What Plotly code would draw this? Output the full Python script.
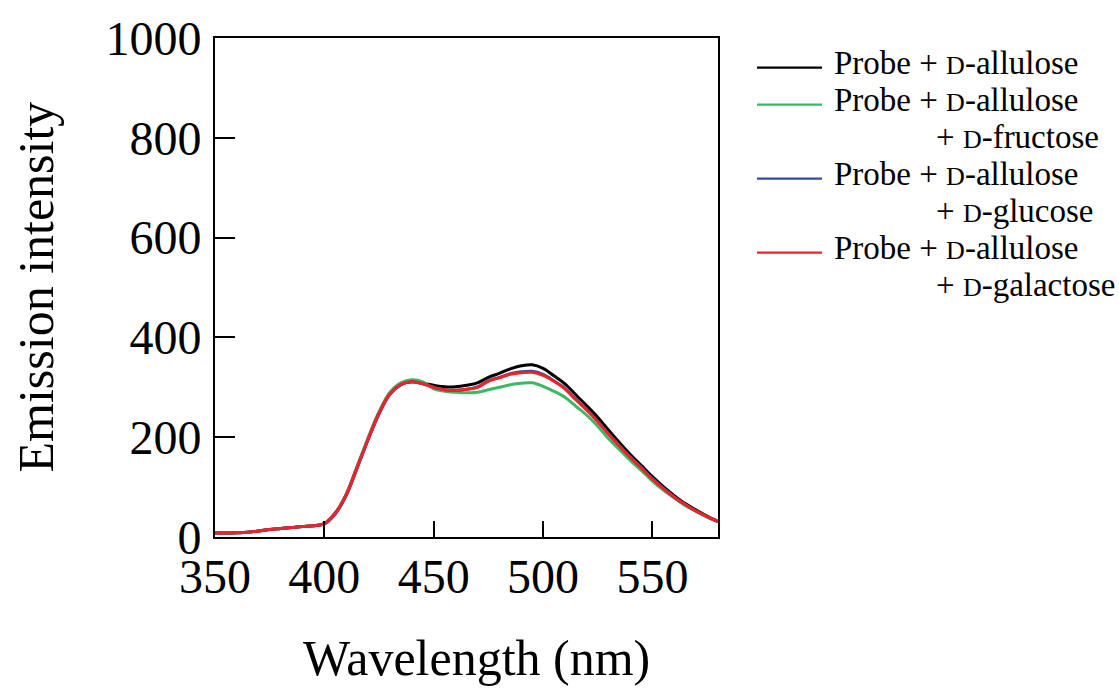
import plotly.graph_objects as go

# Emission spectra (nm vs. intensity)
wavelength = list(range(350, 581, 5))

allulose = [8, 8, 8.5, 9.5, 12, 15, 17, 19, 21, 22.5,
            27, 48, 85, 140, 196, 248, 287, 306, 311, 308,
            304, 301, 301, 304, 309, 320, 328, 337, 343, 345,
            338, 323, 307, 285, 263, 240, 214, 189, 165, 143,
            121, 101, 83, 67, 54, 42, 31]

allulose_fructose = [8, 8, 8.5, 9.5, 12, 15, 17, 19, 21, 22.5,
                     27, 48, 86, 142, 199, 251, 290, 309, 315, 311,
                     297, 292, 290, 289, 290, 295, 300, 305, 308, 309,
                     302, 292, 280, 262, 244, 222, 197, 175, 153, 133,
                     112, 94, 78, 63, 51, 40, 31]

allulose_glucose = [8, 8, 8.5, 9.5, 12, 15, 17, 19, 21, 22.5,
                    26, 46, 83, 138, 195, 247, 286, 305, 311, 307,
                    300, 295, 294, 296, 301, 313, 320, 327, 331, 332,
                    326, 313, 298, 276, 255, 232, 207, 183, 160, 139,
                    117, 98, 80, 65, 52, 41, 31]

allulose_galactose = [8, 8, 8.5, 9.5, 12, 15, 17, 19, 21, 22.5,
                      27, 48, 85, 140, 196, 248, 287, 306, 311, 307,
                      300, 295, 294, 296, 300, 312, 319, 326, 329, 330,
                      324, 312, 297, 275, 254, 231, 206, 182, 159, 138,
                      116, 97, 80, 65, 52, 41, 31]

series = [
    ("allulose", allulose, "#000000"),
    ("allulose + fructose", allulose_fructose, "#3db862"),
    ("allulose + glucose", allulose_glucose, "#2e4f9e"),
    ("allulose + galactose", allulose_galactose, "#ee2229"),
]

SC = '<span style="font-size:26px">D</span>'
legend_first = [f"Probe + {SC}-allulose"] * 4
legend_second = ["", f"+ {SC}-fructose", f"+ {SC}-glucose", f"+ {SC}-galactose"]

x_ticks = [350, 400, 450, 500, 550]
y_ticks = [0, 200, 400, 600, 800, 1000]

FONT = "Liberation Serif"
W, H = 1119, 688
L, R, T, B = 215, 401, 33, 150.5
PW, PH = W - L - R, H - T - B


def px(x):
    return (x - L) / PW


def py(y):
    return (H - B - y) / PH


fig = go.Figure()
for name, vals, color in series:
    fig.add_trace(go.Scatter(
        x=wavelength, y=vals, mode="lines", name=name,
        line=dict(color=color, width=3, shape="spline", smoothing=1),
        showlegend=False,
    ))

shapes = []
annotations = []
row_y = 63
for first, second, (_, _, color) in zip(legend_first, legend_second, series):
    shapes.append(dict(type="line", xref="paper", yref="paper",
                       x0=px(757), x1=px(822), y0=py(row_y), y1=py(row_y),
                       line=dict(color=color, width=2.4)))
    annotations.append(dict(text=first, xref="paper", yref="paper",
                            x=px(832), y=py(row_y - 5), xanchor="left", yanchor="middle",
                            showarrow=False, font=dict(family=FONT, size=33, color="black")))
    row_y += 37.4
    if second:
        annotations.append(dict(text=second, xref="paper", yref="paper",
                                x=px(934), y=py(row_y - 5), xanchor="left", yanchor="middle",
                                showarrow=False, font=dict(family=FONT, size=33, color="black")))
        row_y += 37.4

annotations.append(dict(text="Emission intensity", xref="paper", yref="paper",
                        x=px(35), y=0.5, textangle=-90, xanchor="center", yanchor="middle",
                        showarrow=False, font=dict(family=FONT, size=50, color="black")))
annotations.append(dict(text="Wavelength (nm)", xref="paper", yref="paper",
                        x=px(476), y=py(660), xanchor="center", yanchor="middle",
                        showarrow=False, font=dict(family=FONT, size=50, color="black")))

fig.update_layout(
    width=W, height=H,
    margin=dict(l=L, r=R, t=T, b=B),
    paper_bgcolor="white", plot_bgcolor="white",
    font=dict(family=FONT, color="black"),
    shapes=shapes, annotations=annotations,
    xaxis=dict(range=[350, 580], tickvals=x_ticks, ticks="inside", ticklen=16,
               tickwidth=2, tickcolor="black", showline=True, linecolor="black",
               linewidth=2, mirror=True, showgrid=False, zeroline=False,
               tickfont=dict(family=FONT, size=48, color="black"),
               ticklabelstandoff=-4),
    yaxis=dict(range=[0, 1000], tickvals=y_ticks, ticks="inside", ticklen=20,
               tickwidth=2, tickcolor="black", showline=True, linecolor="black",
               linewidth=2, mirror=True, showgrid=False, zeroline=False,
               tickfont=dict(family=FONT, size=48, color="black"),
               ticklabelstandoff=2),
)

fig.write_html("out.html")
